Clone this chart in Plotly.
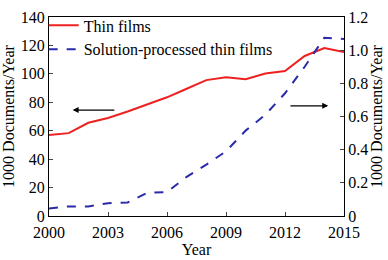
import plotly.graph_objects as go

years = list(range(2000, 2016))
thin_films = [57, 58.3, 65.6, 69, 73.5, 78.6, 83.5, 89.5, 95.6, 97.6, 96.2, 100.3, 102, 112.6, 118.2, 115.3]
solution_processed = [0.045, 0.058, 0.058, 0.077, 0.082, 0.14, 0.144, 0.236, 0.31, 0.39, 0.515, 0.61, 0.74, 0.90, 1.075, 1.067]
x_ticks = [2000, 2003, 2006, 2009, 2012, 2015]
left_ticks = [0, 20, 40, 60, 80, 100, 120, 140]
right_ticks = [0, 0.2, 0.4, 0.6, 0.8, 1.0, 1.2]
right_tick_labels = ["0", "0.2", "0.4", "0.6", "0.8", "1.0", "1.2"]

fam = "Liberation Serif, Times New Roman, serif"
font = dict(family=fam, size=16, color="black")
title_font = dict(family=fam, size=16, color="black")

fig = go.Figure()
fig.add_trace(go.Scatter(x=years, y=thin_films, mode="lines", name="Thin films",
                         line=dict(color="#ee2020", width=2)))
fig.add_trace(go.Scatter(x=years, y=solution_processed, mode="lines", name="Solution-processed thin films",
                         line=dict(color="#2a2aaa", width=2, dash="dash"), yaxis="y2"))

fig.add_annotation(x=2001.2, y=74.5, ax=2003.4, ay=74.5, xref="x", yref="y", axref="x", ayref="y",
                   showarrow=True, arrowhead=2, arrowsize=1, arrowwidth=1.2, arrowcolor="black", text="")
fig.add_annotation(x=2014.2, y=77.5, ax=2012.2, ay=77.5, xref="x", yref="y", axref="x", ayref="y",
                   showarrow=True, arrowhead=2, arrowsize=1, arrowwidth=1.2, arrowcolor="black", text="")

fig.update_layout(
    width=388, height=260,
    margin=dict(l=43, r=44, t=8, b=43),
    paper_bgcolor="white", plot_bgcolor="white",
    font=font,
    showlegend=True,
    legend=dict(x=-0.018, y=1.043, xanchor="left", yanchor="top", bgcolor="rgba(0,0,0,0)",
                font=dict(family=fam, size=16, color="black"),
                tracegroupgap=0, itemwidth=30),
    xaxis=dict(range=[2000, 2015], tickvals=x_ticks, ticks="inside", ticklen=4, ticklabelstandoff=2,
               showline=True, linecolor="black", linewidth=1, mirror=True, showgrid=False,
               zeroline=False, title=dict(text="Year", standoff=0, font=title_font), tickfont=font),
    yaxis=dict(range=[0, 140], tickvals=left_ticks, ticks="inside", ticklen=4,
               showline=True, linecolor="black", linewidth=1, showgrid=False, zeroline=False,
               title=dict(text="1000 Documents/Year", standoff=2, font=title_font), tickfont=font),
    yaxis2=dict(range=[0, 1.2], tickvals=right_ticks, ticktext=right_tick_labels, overlaying="y",
                side="right", ticks="inside", ticklen=4, showline=True, linecolor="black", linewidth=1,
                showgrid=False, zeroline=False,
                title=dict(text="1000 Documents/Year", standoff=0, font=title_font), tickfont=font),
)

fig.write_html("out.html", config={"displayModeBar": False},
               post_script="document.body.style.margin='0';document.body.style.overflow='hidden';")
